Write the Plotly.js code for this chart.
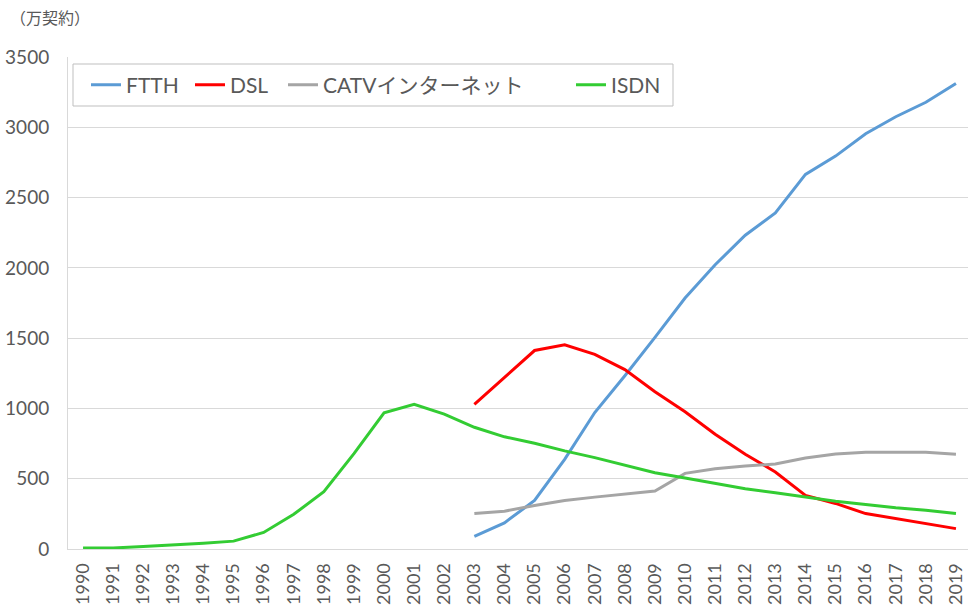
<!DOCTYPE html>
<html>
<head>
<meta charset="utf-8">
<script src="https://cdn.plot.ly/plotly-3.0.1.min.js"></script>
<style>html,body{margin:0;padding:0;background:#fff;}#chart{width:968px;height:607px;}</style>
</head>
<body>
<div id="chart"></div>
<script>
const years = ['1990','1991','1992','1993','1994','1995','1996','1997','1998','1999','2000','2001','2002','2003','2004','2005','2006','2007','2008','2009','2010','2011','2012','2013','2014','2015','2016','2017','2018','2019'];
const yearsFrom2003 = years.slice(13);
const ftth = [90,186,345,638,971,1233,1505,1785,2022,2232,2390,2665,2795,2954,3075,3178,3312];
const dsl = [1029,1221,1412,1452,1385,1276,1119,976,817,674,548,381,324,252,217,179,145];
const catv = [252,269,310,345,369,390,412,538,571,590,605,648,676,688,688,688,674];
const isdn = [7,7,18,27,41,56,118,247,407,678,969,1030,960,866,798,752,698,650,595,543,505,467,429,400,369,340,317,293,276,252];
const seriesNames = ['FTTH','DSL','CATVインターネット','ISDN'];
const seriesColors = ['#5b9bd5','#ff0000','#a5a5a5','#33cc33'];
const yTicks = [0,500,1000,1500,2000,2500,3000,3500];

const FONT = "Lato, 'Noto Sans CJK JP', sans-serif";
const W = 968, H = 607, ML = 68, MR = 0, MT = 57, MB = 58;
const PW = W - ML - MR, PH = H - MT - MB;
const px2x = p => (p - ML) / PW;
const px2y = p => (H - MB - p) / PH;

const legendIds = ['legend','legend2','legend3','legend4'];
const legendLineStart = [93, 197, 290, 578];

const traces = [
  {x: yearsFrom2003, y: ftth},
  {x: yearsFrom2003, y: dsl},
  {x: yearsFrom2003, y: catv},
  {x: years, y: isdn}
].map((t,i)=>({
  type:'scatter', mode:'lines', x:t.x, y:t.y, name:seriesNames[i],
  line:{color:seriesColors[i], width:3}, legend: legendIds[i]
}));

const layout = {
  width:W, height:H,
  margin:{l:ML, r:MR, t:MT, b:MB},
  paper_bgcolor:'#fff', plot_bgcolor:'#fff',
  font:{family:FONT, color:'#595959'},
  showlegend:true,
  xaxis:{type:'category', categoryorder:'array', categoryarray:years,
    range:[-0.5, 29.4], tickangle:-90, showgrid:false, zeroline:false,
    showline:true, linecolor:'#d9d9d9', linewidth:1,
    ticks:'', tickfont:{size:18, color:'#595959'}, ticklabelstandoff:6},
  yaxis:{range:[0,3500], tickvals:yTicks, showgrid:true, gridcolor:'#d9d9d9', gridwidth:1,
    zeroline:false, showline:true, linecolor:'#d9d9d9', linewidth:1,
    ticks:'', tickfont:{size:19, color:'#595959'}, ticklabelstandoff:14},
  shapes:[{type:'rect', xref:'paper', yref:'paper', x0:px2x(73), x1:px2x(673), y0:px2y(106), y1:px2y(64),
    line:{color:'#bfbfbf', width:1}, fillcolor:'#ffffff', layer:'above'}],
  annotations:[{text:'（万契約）', xref:'paper', yref:'paper', x:px2x(8), y:px2y(18),
    xanchor:'left', yanchor:'middle', showarrow:false, font:{size:16, color:'#595959', family:FONT}}]
};
legendIds.forEach((id,i)=>{
  layout[id] = {orientation:'h', x:px2x(legendLineStart[i]-7), y:px2y(85), xanchor:'left', yanchor:'middle',
    bgcolor:'rgba(0,0,0,0)', borderwidth:0, font:{size:21, color:'#595959', family:FONT}, itemwidth:30};
});
Plotly.newPlot('chart', traces, layout, {displayModeBar:false, staticPlot:true});
</script>
</body>
</html>
